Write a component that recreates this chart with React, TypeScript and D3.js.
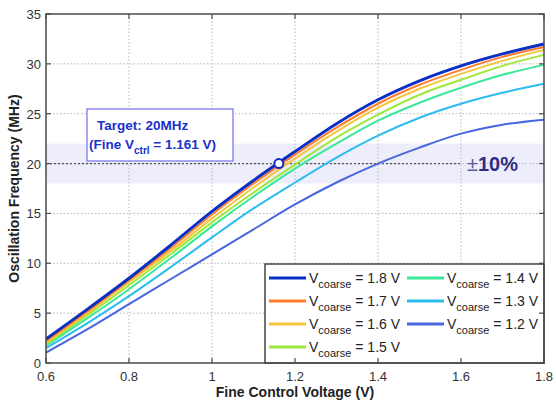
import React from "react";
import * as d3 from "d3";

// fine control voltage samples (V)
const vFine = [0.6, 0.7, 0.8, 0.9, 1.0, 1.1, 1.2, 1.3, 1.4, 1.5, 1.6, 1.7, 1.8];

// oscillation frequency (MHz) per coarse voltage
const f18 = [2.4, 5.4, 8.5, 11.8, 15.2, 18.3, 21.2, 24.0, 26.4, 28.3, 29.8, 31.0, 32.0];
const f17 = [2.2, 5.2, 8.3, 11.5, 14.9, 18.0, 20.9, 23.6, 26.0, 27.9, 29.4, 30.7, 31.7];
const f16 = [2.05, 5.0, 8.1, 11.2, 14.5, 17.6, 20.5, 23.2, 25.6, 27.5, 29.0, 30.3, 31.4];
const f15 = [1.9, 4.8, 7.8, 10.9, 14.1, 17.1, 19.9, 22.6, 24.9, 26.9, 28.4, 29.8, 30.9];
const f14 = [1.75, 4.5, 7.4, 10.5, 13.7, 16.7, 19.5, 22.0, 24.3, 26.1, 27.6, 28.9, 29.9];
const f13 = [1.5, 4.0, 6.7, 9.6, 12.6, 15.5, 18.1, 20.6, 22.8, 24.6, 26.0, 27.1, 28.0];
const f12 = [1.05, 3.4, 5.9, 8.4, 10.9, 13.4, 15.9, 18.1, 20.0, 21.6, 23.0, 23.9, 24.4];

const coarseLabels = ["1.8 V", "1.7 V", "1.6 V", "1.5 V", "1.4 V", "1.3 V", "1.2 V"];
const colors = ["#0a2fc4", "#ff7d2a", "#f4c63c", "#9ee83c", "#3be898", "#2cbcee", "#4766e0"];
const series = [f18, f17, f16, f15, f14, f13, f12];

const xTicks = [0.6, 0.8, 1.0, 1.2, 1.4, 1.6, 1.8];
const yTicks = [0, 5, 10, 15, 20, 25, 30, 35];

const target = 20;
const targetV = 1.161;
const bandLo = 18;
const bandHi = 22;

const W = 556;
const H = 403;
const m = { left: 46, right: 12, top: 14, bottom: 40 };

export default function App() {
  const x = d3.scaleLinear().domain([0.6, 1.8]).range([m.left, W - m.right]);
  const y = d3.scaleLinear().domain([0, 35]).range([H - m.bottom, m.top]);
  const line = d3
    .line<number>()
    .x((_, i) => x(vFine[i]))
    .y((d) => y(d))
    .curve(d3.curveCatmullRom.alpha(0.5));

  const font = "'Liberation Sans', Arial, sans-serif";
  const x0 = x.range()[0];
  const x1 = x.range()[1];
  const yb = y.range()[0];
  const yt = y.range()[1];

  // legend layout
  const lgX = 265;
  const lgY = 264;
  const rowH = 23;
  const colX = [269, 407];

  return (
    <svg
      width={W}
      height={H}
      style={{ position: "absolute", left: 0, top: 0, background: "#fff" }}
      fontFamily={font}
    >
      {/* ±10% band */}
      <rect x={x0} y={y(bandHi)} width={x1 - x0} height={y(bandLo) - y(bandHi)} fill="#ededfb" />

      {/* grid */}
      {xTicks.slice(1, -1).map((t) => (
        <line key={"gx" + t} x1={x(t)} x2={x(t)} y1={yt} y2={yb} stroke="#b4b4b4" strokeDasharray="1.5,2" />
      ))}
      {yTicks.slice(1, -1).map((t) => (
        <line key={"gy" + t} x1={x0} x2={x1} y1={y(t)} y2={y(t)} stroke="#b4b4b4" strokeDasharray="1.5,2" />
      ))}
      <line x1={x0} x2={x(1.6)} y1={y(target)} y2={y(target)} stroke="#555" strokeWidth={1.2} strokeDasharray="2,2" />

      {/* curves */}
      {series
        .map((s, i) => ({ s, i }))
        .reverse()
        .map(({ s, i }) => (
          <path key={"c" + i} d={line(s) || ""} fill="none" stroke={colors[i]} strokeWidth={i === 0 ? 3 : 2} />
        ))}

      {/* annotation */}
      <rect x={87} y={109} width={146} height={52} fill="#fff" stroke="#8a8aee" strokeWidth={1.5} />
      <text x={97} y={130} fontSize={13.5} fontWeight="bold" fill="#2030cc">
        Target: 20MHz
      </text>
      <text x={89} y={149} fontSize={13.5} fontWeight="bold" fill="#2030cc">
        (Fine V
        <tspan dy={5} fontSize={10}>ctrl</tspan>
        <tspan dy={-5}> = 1.161 V)</tspan>
      </text>
      <circle cx={x(targetV)} cy={y(target)} r={4.5} fill="#fff" stroke="#1428c0" strokeWidth={2} />

      <text x={467} y={171} fontSize={20} fontWeight="bold" fill="#2e2e82">
        <tspan fontWeight="normal" fill="#5a5a96">±</tspan>10%
      </text>

      {/* legend */}
      <rect x={lgX} y={lgY} width={x1 - lgX} height={yb - lgY} fill="#fff" stroke="#444" strokeWidth={1.5} />
      {coarseLabels.map((lab, i) => {
        const col = i < 4 ? 0 : 1;
        const row = i < 4 ? i : i - 4;
        const cy = lgY + 14 + row * rowH;
        const lx = colX[col];
        return (
          <g key={"lg" + i}>
            <line x1={lx} x2={lx + 37} y1={cy} y2={cy} stroke={colors[i]} strokeWidth={3} />
            <text x={lx + 40} y={cy + 5} fontSize={14} fill="#222">
              V<tspan dy={5} fontSize={11}>coarse</tspan>
              <tspan dy={-5}> = {lab}</tspan>
            </text>
          </g>
        );
      })}

      {/* frame */}
      <rect x={x0} y={yt} width={x1 - x0} height={yb - yt} fill="none" stroke="#4a4a4a" strokeWidth={1.5} />
      {xTicks.map((t) => (
        <g key={"tx" + t}>
          <line x1={x(t)} x2={x(t)} y1={yb} y2={yb - 5} stroke="#4a4a4a" strokeWidth={1.2} />
          <line x1={x(t)} x2={x(t)} y1={yt} y2={yt + 5} stroke="#4a4a4a" strokeWidth={1.2} />
          <text x={x(t)} y={yb + 18} fontSize={13} fill="#333" textAnchor="middle">
            {d3.format("")(t)}
          </text>
        </g>
      ))}
      {yTicks.map((t) => (
        <g key={"ty" + t}>
          <line x1={x0} x2={x0 + 5} y1={y(t)} y2={y(t)} stroke="#4a4a4a" strokeWidth={1.2} />
          <line x1={x1} x2={x1 - 5} y1={y(t)} y2={y(t)} stroke="#4a4a4a" strokeWidth={1.2} />
          <text x={x0 - 5} y={y(t) + 5} fontSize={13} fill="#333" textAnchor="end">
            {t}
          </text>
        </g>
      ))}

      <text x={(x0 + x1) / 2} y={397} fontSize={14} fontWeight="bold" fill="#222" textAnchor="middle">
        Fine Control Voltage (V)
      </text>
      <text
        transform={`translate(19,${(yt + yb) / 2}) rotate(-90)`}
        fontSize={14}
        fontWeight="bold"
        fill="#222"
        textAnchor="middle"
      >
        Oscillation Frequency (MHz)
      </text>
    </svg>
  );
}
